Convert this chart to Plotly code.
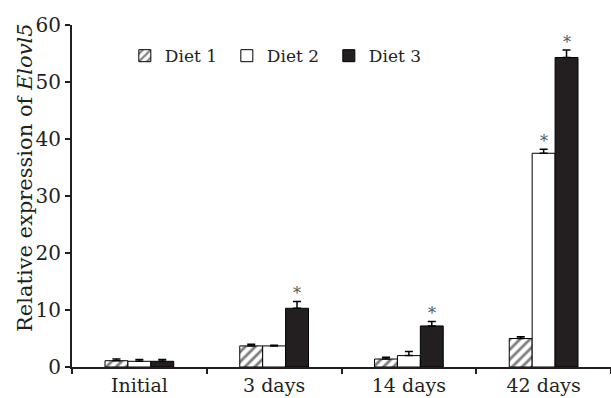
import plotly.graph_objects as go

categories = ["Initial", "3 days", "14 days", "42 days"]
diet1 = [1.1, 3.7, 1.4, 5.0]
err1 = [0.3, 0.3, 0.3, 0.3]
diet2 = [1.0, 3.7, 2.0, 37.5]
err2 = [0.3, 0.1, 0.7, 0.7]
diet3 = [1.0, 10.3, 7.2, 54.3]
err3 = [0.3, 1.2, 0.8, 1.3]
sig1 = [False, False, False, False]
sig2 = [False, False, False, True]
sig3 = [False, True, True, True]
series_names = ["Diet 1", "Diet 2", "Diet 3"]

FONT = "DejaVu Serif"
INK = "#231f20"
W, H = 611, 398
ML, MR, MT, MB = 72, 0, 25, 31
BARGAP = 0.49

fig = go.Figure()
styles = [
    dict(color="white", pattern=dict(shape="/", fgcolor="black", bgcolor="white", size=7, solidity=0.4)),
    dict(color="white"),
    dict(color=INK),
]
vals = [diet1, diet2, diet3]
errs = [err1, err2, err3]
sigs = [sig1, sig2, sig3]
for name, v, e, st in zip(series_names, vals, errs, styles):
    fig.add_trace(go.Bar(
        x=categories, y=v, name=name,
        marker=dict(line=dict(color="black", width=1), **st),
        error_y=dict(type="data", array=e, arrayminus=[0]*len(e), symmetric=False,
                     color="black", thickness=1.5, width=4),
    ))

plot_w = W - ML - MR
plot_h = H - MT - MB
cat_w = plot_w / len(categories)
bar_w = cat_w * (1 - BARGAP) / 3
for j, (v, e, s) in enumerate(zip(vals, errs, sigs)):
    for i, c in enumerate(categories):
        if s[i]:
            fig.add_annotation(x=c, y=v[i] + e[i], text="*", showarrow=False,
                               xshift=(j - 1) * bar_w, yshift=8, yanchor="middle",
                               font=dict(family=FONT, size=16, color="#555555"))

fig.add_annotation(xref="paper", yref="paper", x=-47/plot_w, y=(367-178)/plot_h, xanchor="center",
                   yanchor="middle", textangle=-90, showarrow=False,
                   text="Relative expression of <i>Elovl5</i>",
                   font=dict(family=FONT, size=21, color=INK))

fig.update_layout(
    width=W, height=H,
    margin=dict(l=ML, r=MR, t=MT, b=MB, pad=0),
    paper_bgcolor="white", plot_bgcolor="white",
    barmode="group", bargap=BARGAP, bargroupgap=0,
    font=dict(family=FONT, size=17, color=INK),
    showlegend=True,
    legend=dict(orientation="h", x=0.098, y=0.909, xanchor="left", yanchor="middle",
                font=dict(family=FONT, size=17, color=INK),
                bgcolor="rgba(0,0,0,0)", itemwidth=30, traceorder="normal",
                entrywidth=57),
    xaxis=dict(showline=True, linecolor=INK, linewidth=2, ticks="outside",
               tickson="boundaries", ticklen=5, tickwidth=1.5, tickcolor=INK,
               showgrid=False, zeroline=False, tickfont=dict(size=19),
               automargin=False),
    yaxis=dict(range=[0, 60], dtick=10, showline=True, linecolor=INK, linewidth=2,
               ticks="outside", ticklen=5, tickwidth=1.5, tickcolor=INK,
               showgrid=False, zeroline=False, tickfont=dict(size=20),
               automargin=False),
)

fig.write_html("out.html", config={"displayModeBar": False},
               post_script="document.body.style.margin='0';document.body.style.overflow='hidden';")
